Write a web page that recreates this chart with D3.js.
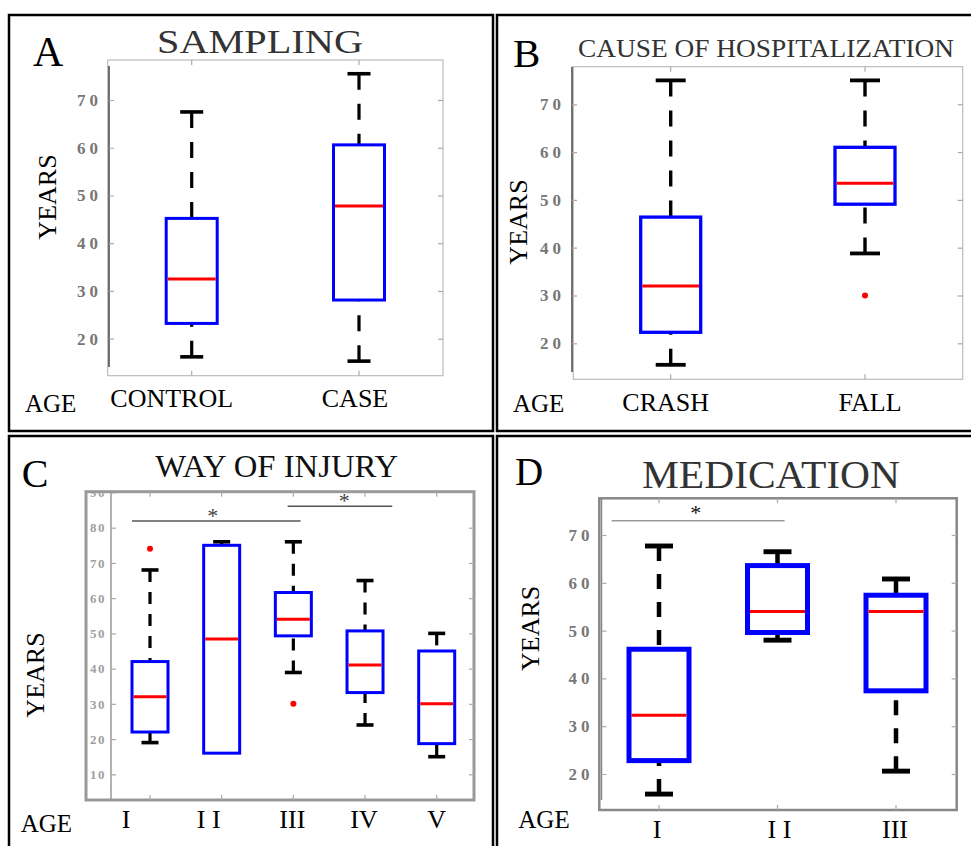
<!DOCTYPE html>
<html>
  <head>
    <meta charset="utf-8">
    <style>
      body { margin: 0; background: #fff; }
      svg text { font-family: "Liberation Serif", "DejaVu Serif", serif; }
    </style>
  </head>
  <body>
    <svg id="container" width="971" height="846"></svg>
  </body>
  <script src="https://cdn.jsdelivr.net/npm/d3@7"></script>
  <script>
    // box stats are [lower whisker, q1, median, q3, upper whisker]
    const samplingCats = ["CONTROL", "CASE"];
    const samplingStats = [[16.2, 23.2, 32.5, 45.2, 67.5], [15.3, 28.1, 47.8, 60.6, 75.5]];
    const samplingOutliers = [[], []];
    const samplingTicks = [20, 30, 40, 50, 60, 70];

    const causeCats = ["CRASH", "FALL"];
    const causeStats = [[15.5, 22.3, 32, 46.4, 75], [38.8, 49.1, 53.5, 61, 75]];
    const causeOutliers = [[], [30]];
    const causeTicks = [20, 30, 40, 50, 60, 70];

    const injuryCats = ["I", "I I", "III", "IV", "V"];
    const injuryStats = [
      [19, 22, 32, 42, 68],
      [16, 16, 48.4, 75, 76],
      [38.9, 49.3, 54, 61.6, 76],
      [24, 33.2, 41, 50.7, 65],
      [15, 18.7, 30, 45, 50]
    ];
    const injuryOutliers = [[74], [], [30], [], []];
    const injuryTicks = [10, 20, 30, 40, 50, 60, 70, 80, 90];
    // significance bars: [from index, to index, level, star index, star level]
    const injurySig = [[-0.25, 2.1, 81.9, 0.875, 84.5], [1.92, 3.38, 86.1, 2.71, 88.6]];

    const medCats = ["I", "I I", "III"];
    const medStats = [[15.8, 22.8, 32.3, 46.1, 67.7], [48, 49.6, 54, 63.6, 66.5], [20.6, 37.4, 54, 57.4, 60.8]];
    const medOutliers = [[], [], []];
    const medTicks = [20, 30, 40, 50, 60, 70];
    const medSig = [[-0.4, 1.06, 73, 0.31, 75.4]];

    let svg = d3.select("#container");

    // panel borders
    let borders = [[9, 15, 484, 416], [497, 15, 480, 416], [9, 436, 484, 420], [497, 436, 480, 420]];
    svg.selectAll("rect.border").data(borders).enter().append("rect")
      .attr("x", d => d[0]).attr("y", d => d[1])
      .attr("width", d => d[2]).attr("height", d => d[3])
      .attr("fill", "none").attr("stroke", "#000").attr("stroke-width", 2.5);

    let panels = [
      {
        cats: samplingCats, stats: samplingStats, outliers: samplingOutliers, ticks: samplingTicks, sig: [],
        title: "SAMPLING", letter: "A",
        frame: [107.7, 60, 443, 375.7], frameColor: "#bbb", frameWidth: 1.2,
        axisLine: [109, 66, 367], axisColor: "#444",
        yRef: [20, 338.7, 70, 100], xRef: [191.7, 359],
        boxW: 51, capW: 23, lineW: 3.2, boxStroke: 3, dash: "16,14",
        tickSize: 17, tickColor: "#777", tickSpacing: 4, tickPad: 7,
        titlePos: [260, 53, 33, 206, "#333"], letterPos: [33, 66, 42],
        yearsPos: [47, 197], agePos: [25, 412], catY: 407, catDx: [-20, -4]
      },
      {
        cats: causeCats, stats: causeStats, outliers: causeOutliers, ticks: causeTicks, sig: [],
        title: "CAUSE OF HOSPITALIZATION", letter: "B",
        frame: [573.3, 66.7, 962.7, 379.3], frameColor: "#bbb", frameWidth: 1.2,
        axisLine: [572, 66.7, 372], axisColor: "#444",
        yRef: [20, 343.3, 70, 104.3], xRef: [670.7, 865],
        boxW: 60, capW: 30, lineW: 3.4, boxStroke: 3.3, dash: "16,14",
        tickSize: 17, tickColor: "#777", tickSpacing: 4, tickPad: 7,
        titlePos: [766, 56.7, 25, 376, "#333"], letterPos: [513, 66.7, 41],
        yearsPos: [518, 222], agePos: [513, 411.7], catY: 411, catDx: [-5, 5]
      },
      {
        cats: injuryCats, stats: injuryStats, outliers: injuryOutliers, ticks: injuryTicks, sig: injurySig,
        title: "WAY OF INJURY", letter: "C",
        frame: [86, 491.7, 474, 800], frameColor: "#999", frameWidth: 3,
        axisLine: [111, 491.7, 800], axisColor: "#999",
        yRef: [10, 774.3, 80, 527.7], xRef: [150, 436.7],
        boxW: 36, capW: 17, lineW: 3.2, boxStroke: 3, dash: "12,10",
        tickSize: 13, tickColor: "#a0a0a0", tickSpacing: 1.5, tickPad: 5,
        titlePos: [276.7, 476.7, 31, 243, "#111"], letterPos: [21.7, 486.7, 40],
        yearsPos: [35, 675], agePos: [20.7, 831.7], catY: 828.3, catDx: [-24, -13, -1, -1, 0],
        sigColor: "#555", starColor: "#444"
      },
      {
        cats: medCats, stats: medStats, outliers: medOutliers, ticks: medTicks, sig: medSig,
        title: "MEDICATION", letter: "D",
        frame: [599.3, 498.3, 956.7, 810], frameColor: "#888", frameWidth: 2.5,
        axisLine: [601.5, 498.3, 800], axisColor: "#888",
        yRef: [20, 774, 70, 535], xRef: [659, 896],
        boxW: 60, capW: 28, lineW: 4.5, boxStroke: 5, dash: "15,13",
        tickSize: 17, tickColor: "#777", tickSpacing: 4, tickPad: 8,
        titlePos: [771, 488.3, 39, 258, "#333"], letterPos: [515, 485, 39],
        yearsPos: [530, 628.3], agePos: [518.3, 828.3], catY: 838, catDx: [-2, 2, -1],
        sigColor: "#999", starColor: "#111"
      }
    ];

    panels.forEach(drawPanel);

    function drawPanel(p, i) {
      let g = svg.append("g");
      let [fx0, fy0, fx1, fy1] = p.frame;

      let yScale = d3.scaleLinear()
        .domain([p.yRef[0], p.yRef[2]])
        .range([p.yRef[1], p.yRef[3]]);
      let xScale = d3.scaleLinear()
        .domain([0, p.cats.length - 1])
        .range(p.xRef);

      // frame
      g.append("rect")
        .attr("x", fx0).attr("y", fy0)
        .attr("width", fx1 - fx0).attr("height", fy1 - fy0)
        .attr("fill", "none").attr("stroke", p.frameColor).attr("stroke-width", p.frameWidth);
      g.append("line")
        .attr("x1", p.axisLine[0]).attr("x2", p.axisLine[0])
        .attr("y1", p.axisLine[1]).attr("y2", p.axisLine[2])
        .attr("stroke", p.axisColor).attr("stroke-width", 1.5);

      // y axis, ticks pointing inward; labels clipped at the frame top
      svg.append("clipPath").attr("id", "clip" + i)
        .append("rect").attr("x", 0).attr("y", fy0 + p.frameWidth / 2)
        .attr("width", fx1).attr("height", fy1 - fy0);
      let yAxis = g.append("g")
        .attr("clip-path", "url(#clip" + i + ")")
        .append("g")
        .attr("transform", "translate(" + p.axisLine[0] + ",0)")
        .call(d3.axisLeft(yScale).tickValues(p.ticks).tickSize(-5).tickPadding(p.tickPad));
      yAxis.select(".domain").remove();
      yAxis.selectAll(".tick line").attr("stroke", "#aaa").attr("stroke-width", 1.2);
      yAxis.selectAll(".tick text")
        .attr("fill", p.tickColor)
        .attr("font-size", p.tickSize)
        .attr("font-weight", "bold")
        .attr("letter-spacing", p.tickSpacing)
        .style("font-family", "'Liberation Serif', serif");

      let rightAxis = g.append("g")
        .attr("transform", "translate(" + fx1 + ",0)")
        .call(d3.axisRight(yScale).tickValues(p.ticks.filter(t => yScale(t) > fy0 + 3)).tickSize(-5).tickFormat(""));
      rightAxis.select(".domain").remove();
      rightAxis.selectAll(".tick line").attr("stroke", "#aaa").attr("stroke-width", 1.2);

      // category ticks top and bottom
      let idx = d3.range(p.cats.length);
      g.selectAll("line.bt").data(idx).enter().append("line")
        .attr("x1", d => xScale(d)).attr("x2", d => xScale(d))
        .attr("y1", fy1).attr("y2", fy1 - 5)
        .attr("stroke", "#aaa").attr("stroke-width", 1.2);
      g.selectAll("line.tt").data(idx).enter().append("line")
        .attr("x1", d => xScale(d)).attr("x2", d => xScale(d))
        .attr("y1", fy0).attr("y2", fy0 + 5)
        .attr("stroke", "#aaa").attr("stroke-width", 1.2);

      // whiskers (dashed from cap toward box)
      let boxes = g.selectAll("g.box").data(p.stats).enter().append("g");
      boxes.append("line")
        .attr("x1", (d, j) => xScale(j)).attr("x2", (d, j) => xScale(j))
        .attr("y1", d => yScale(d[4])).attr("y2", d => yScale(d[3]))
        .attr("stroke", "#000").attr("stroke-width", p.lineW).attr("stroke-dasharray", p.dash);
      boxes.append("line")
        .attr("x1", (d, j) => xScale(j)).attr("x2", (d, j) => xScale(j))
        .attr("y1", d => yScale(d[0])).attr("y2", d => yScale(d[1]))
        .attr("stroke", "#000").attr("stroke-width", p.lineW).attr("stroke-dasharray", p.dash);
      // caps
      [0, 4].forEach(k => {
        boxes.filter(d => d[k] !== d[k === 0 ? 1 : 3]).append("line")
          .attr("x1", (d) => xScale(p.stats.indexOf(d)) - p.capW / 2)
          .attr("x2", (d) => xScale(p.stats.indexOf(d)) + p.capW / 2)
          .attr("y1", d => yScale(d[k])).attr("y2", d => yScale(d[k]))
          .attr("stroke", "#000").attr("stroke-width", p.lineW + 0.4);
      });
      // box
      boxes.append("rect")
        .attr("x", (d, j) => xScale(j) - p.boxW / 2)
        .attr("y", d => yScale(d[3]))
        .attr("width", p.boxW)
        .attr("height", d => yScale(d[1]) - yScale(d[3]))
        .attr("fill", "#fff").attr("stroke", "#0000ff").attr("stroke-width", p.boxStroke);
      // median
      boxes.append("line")
        .attr("x1", (d, j) => xScale(j) - p.boxW / 2 + p.boxStroke / 2)
        .attr("x2", (d, j) => xScale(j) + p.boxW / 2 - p.boxStroke / 2)
        .attr("y1", d => yScale(d[2])).attr("y2", d => yScale(d[2]))
        .attr("stroke", "#ff0000").attr("stroke-width", 3);

      // outliers
      p.outliers.forEach((vals, j) => {
        g.selectAll(null).data(vals).enter().append("circle")
          .attr("cx", xScale(j)).attr("cy", d => yScale(d))
          .attr("r", 3).attr("fill", "#ff0000");
      });

      // significance bars
      p.sig.forEach(s => {
        g.append("line")
          .attr("x1", xScale(s[0])).attr("x2", xScale(s[1]))
          .attr("y1", yScale(s[2])).attr("y2", yScale(s[2]))
          .attr("stroke", p.sigColor).attr("stroke-width", 1.5);
        g.append("text")
          .attr("x", xScale(s[3])).attr("y", yScale(s[4]) + 11)
          .attr("text-anchor", "middle")
          .attr("font-size", 22).attr("fill", p.starColor)
          .text("*");
      });

      // texts
      let t = p.titlePos;
      g.append("text")
        .attr("x", t[0] - t[3] / 2).attr("y", t[1])
        .attr("font-size", t[2]).attr("fill", t[4])
        .attr("textLength", t[3]).attr("lengthAdjust", "spacingAndGlyphs")
        .text(p.title);
      g.append("text")
        .attr("x", p.letterPos[0]).attr("y", p.letterPos[1])
        .attr("font-size", p.letterPos[2]).attr("fill", "#000")
        .text(p.letter);
      g.append("text")
        .attr("transform", "translate(" + p.yearsPos[0] + "," + p.yearsPos[1] + ") rotate(-90)")
        .attr("text-anchor", "middle").attr("dy", "0.35em")
        .attr("font-size", 26).attr("fill", "#000")
        .text("YEARS");
      g.append("text")
        .attr("x", p.agePos[0]).attr("y", p.agePos[1])
        .attr("font-size", 25).attr("fill", "#000")
        .text("AGE");
      g.selectAll("text.cat").data(p.cats).enter().append("text")
        .attr("x", (d, j) => xScale(j) + p.catDx[j]).attr("y", p.catY)
        .attr("text-anchor", "middle")
        .attr("font-size", 26).attr("fill", "#000")
        .text(d => d);
    }
  </script>
</html>
